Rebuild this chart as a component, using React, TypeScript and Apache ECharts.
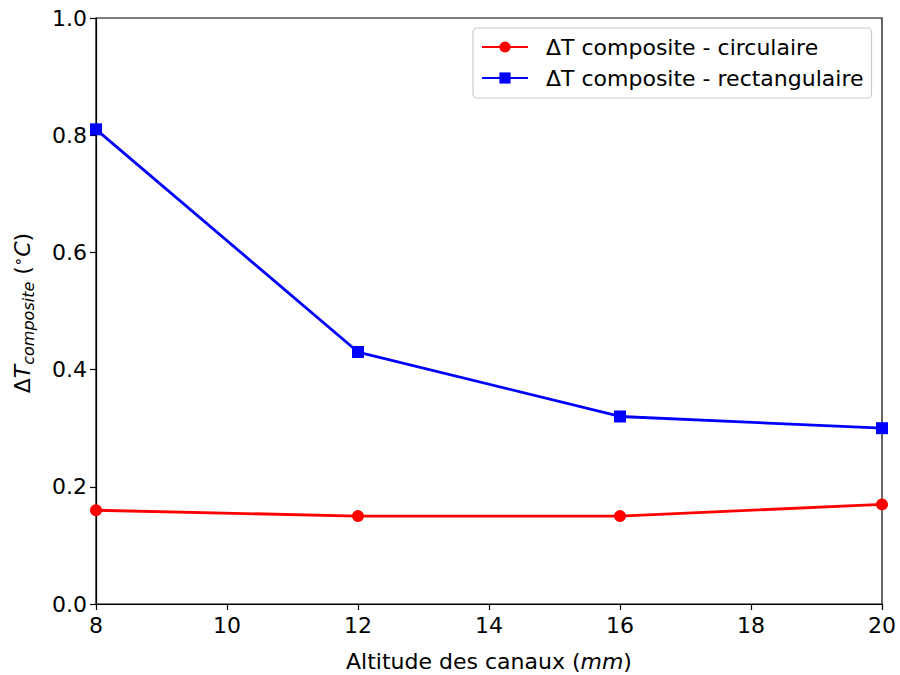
import React, { useEffect, useRef } from "react";
import * as echarts from "echarts";

const altitudes = [8, 12, 16, 20];
const circulaire = [0.16, 0.15, 0.15, 0.17];
const rectangulaire = [0.81, 0.43, 0.32, 0.3];
const seriesNames = ["ΔT composite - circulaire", "ΔT composite - rectangulaire"];

const FONT = "DejaVu Sans";
const FS = 22;

export default function App() {
  const ref = useRef<HTMLDivElement>(null);
  useEffect(() => {
    const chart = echarts.init(ref.current!, null, { renderer: "svg" });
    const left = 96, top = 18, right = 882, bottom = 604;
    chart.setOption({
      animation: false,
      backgroundColor: "#fff",
      textStyle: { fontFamily: FONT },
      grid: {
        left, top, width: right - left, height: bottom - top,
        outerBoundsMode: "none", containLabel: false,
        show: true, borderColor: "#000", borderWidth: 1.2, backgroundColor: "transparent",
      },
      legend: {
        left: 473, top: 28, orient: "vertical",
        backgroundColor: "#fff", borderColor: "#ccc", borderWidth: 1.2, borderRadius: 4,
        padding: [8, 8, 9, 8], itemGap: 9, itemWidth: 46, itemHeight: 14,
        textStyle: { fontFamily: FONT, fontSize: FS, color: "#000", padding: [0, 0, 0, 13] },
        data: seriesNames,
      },
      xAxis: {
        type: "value", min: 8, max: 20, interval: 2,
        axisLine: { show: true, lineStyle: { color: "#000", width: 1.2 } },
        axisTick: { show: true, length: 6, lineStyle: { color: "#000", width: 1.2 } },
        axisLabel: { fontFamily: FONT, fontSize: FS, color: "#000", margin: 10 },
        splitLine: { show: false },
        name: "{n|Altitude des canaux (}{i|mm}{n|)}",
        nameLocation: "middle", nameGap: 46,
        nameTextStyle: {
          rich: {
            n: { fontFamily: FONT, fontSize: FS, color: "#000" },
            i: { fontFamily: FONT, fontSize: FS, color: "#000", fontStyle: "italic" },
          },
        },
      },
      yAxis: {
        type: "value", min: 0, max: 1, interval: 0.2,
        axisLine: { show: true, lineStyle: { color: "#000", width: 1.2 } },
        axisTick: { show: true, length: 6, lineStyle: { color: "#000", width: 1.2 } },
        axisLabel: { fontFamily: FONT, fontSize: FS, color: "#000", margin: 9, formatter: (v: number) => v.toFixed(1) },
        splitLine: { show: false },
      },
      graphic: [
        {
          type: "text",
          x: 22, y: 313, rotation: Math.PI / 2,
          style: {
            text: "{n|Δ}{i|T}{s|composite}{n| (}{d|∘}{i|C}{n|)}",
            align: "center", verticalAlign: "middle",
            rich: {
              n: { fontFamily: FONT, fontSize: FS, fill: "#000" },
              i: { fontFamily: FONT, fontSize: FS, fill: "#000", fontStyle: "italic" },
              s: { fontFamily: FONT, fontSize: 16, fill: "#000", fontStyle: "italic", padding: [12, 0, 0, 0] },
              d: { fontFamily: FONT, fontSize: 15, fill: "#000", padding: [0, 0, 9, 0] },
            },
          },
        },
      ],
      series: [
        {
          name: seriesNames[0], type: "line",
          data: altitudes.map((x, i) => [x, circulaire[i]]),
          color: "#ff0000", lineStyle: { width: 2.8, color: "#ff0000" },
          symbol: "circle", symbolSize: 12, itemStyle: { color: "#ff0000" },
          clip: false,
        },
        {
          name: seriesNames[1], type: "line",
          data: altitudes.map((x, i) => [x, rectangulaire[i]]),
          color: "#0000ff", lineStyle: { width: 2.8, color: "#0000ff" },
          symbol: "rect", symbolSize: 12, itemStyle: { color: "#0000ff" },
          clip: false,
        },
      ],
    });
    return () => chart.dispose();
  }, []);
  return <div ref={ref} style={{ width: 900, height: 675, position: "absolute", left: 0, top: 0 }} />;
}
